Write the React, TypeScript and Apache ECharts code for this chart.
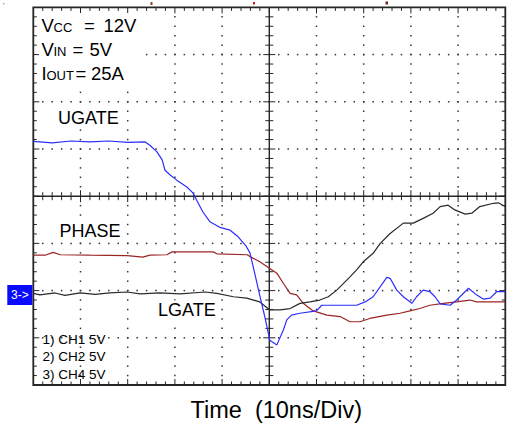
import React, { useEffect, useRef } from 'react';
import * as echarts from 'echarts';

// Time axis: 10 divisions × 10 ns/div; vertical: 8 divisions (5 V/div per channel)
const X_DIVS = 10;
const NS_PER_DIV = 10;
const Y_DIVS = 8;
const X_MAX = X_DIVS * NS_PER_DIV;

// UGATE (CH1, blue) — time in ns, level in divisions from bottom
const ugateTime = [0, 4, 8, 12, 16, 20, 23.7, 24.7, 26.2, 27.3, 27.9, 29.0, 30.4, 32.6, 33.8, 34.6, 35.9, 37.4, 39.5, 41.7, 43.4, 45.1, 45.9, 47.0, 48.0, 49.1, 50.1, 51.6, 53.0, 53.7, 54.7, 56.5, 60.0, 61.1, 68.5, 70.3, 72.0, 74.9, 75.6, 77.0, 78.4, 80.2, 81.2, 82.6, 84.0, 85.1, 86.2, 88.3, 89.7, 92.2, 93.9, 95.3, 96.8, 98.2, 100];
const ugateDiv = [5.16, 5.13, 5.17, 5.15, 5.17, 5.14, 5.15, 5.08, 4.94, 4.77, 4.55, 4.45, 4.34, 4.19, 4.07, 3.92, 3.67, 3.46, 3.34, 3.28, 3.14, 2.94, 2.80, 2.33, 1.89, 1.42, 0.95, 0.85, 1.17, 1.38, 1.48, 1.52, 1.57, 1.69, 1.69, 1.76, 1.87, 2.28, 2.26, 2.01, 1.87, 1.73, 1.87, 2.01, 1.98, 1.87, 1.72, 1.69, 1.80, 2.05, 1.91, 1.82, 1.84, 1.98, 1.98];

// PHASE (CH2, dark red)
const phaseTime = [0, 2.5, 4.2, 5.7, 12, 19.9, 23.2, 24.7, 28.3, 29.4, 38.1, 38.9, 45.3, 45.9, 47.3, 48.0, 50.1, 51.6, 53.0, 54.4, 55.8, 57.2, 59.0, 60.0, 62.2, 65.0, 67.1, 69.2, 71.3, 74.9, 77.7, 79.8, 81.9, 84.0, 86.9, 89.7, 92.5, 93.9, 100];
const phaseDiv = [2.75, 2.75, 2.81, 2.76, 2.75, 2.74, 2.71, 2.75, 2.76, 2.82, 2.82, 2.78, 2.76, 2.72, 2.65, 2.61, 2.47, 2.37, 2.15, 1.94, 1.91, 1.73, 1.59, 1.55, 1.48, 1.45, 1.34, 1.34, 1.41, 1.48, 1.52, 1.57, 1.62, 1.69, 1.73, 1.76, 1.80, 1.76, 1.76];

// LGATE (CH4, black)
const lgateTime = [0, 1.4, 4.6, 6.7, 9.9, 13.1, 16.2, 19.9, 22.6, 26.8, 31.1, 36.4, 38.9, 42.4, 45.2, 48.0, 50.1, 52.3, 54.4, 56.5, 58.6, 60.7, 62.5, 64.3, 67.1, 68.5, 69.9, 72.0, 73.5, 75.6, 78.4, 80.5, 82.6, 84.7, 86.2, 87.9, 89.3, 91.5, 92.9, 94.6, 97.5, 98.5, 100];
const lgateDiv = [1.94, 1.91, 1.95, 1.90, 1.95, 1.92, 1.95, 1.97, 1.93, 1.95, 1.93, 1.97, 1.94, 1.87, 1.84, 1.76, 1.59, 1.59, 1.62, 1.73, 1.76, 1.80, 1.87, 2.01, 2.29, 2.44, 2.61, 2.79, 3.00, 3.21, 3.43, 3.43, 3.53, 3.64, 3.78, 3.81, 3.71, 3.62, 3.64, 3.78, 3.85, 3.86, 3.78];

const channelLabels = ['1) CH1 5V', '2) CH2 5V', '3) CH4 5V'];
const xAxisTitle = 'Time  (10ns/Div)';

const FONT = '"Liberation Sans", Arial, sans-serif';

const zip = (t: number[], v: number[]) => t.map((x, i) => [x, v[i]]);

function renderGraticule(_params: any, api: any) {
  const [left, bottom] = api.coord([0, 0]);
  const [right, top] = api.coord([X_MAX, Y_DIVS]);
  const divW = (right - left) / X_DIVS;
  const divH = (bottom - top) / Y_DIVS;
  const cx = left + divW * (X_DIVS / 2);
  const cy = top + divH * (Y_DIVS / 2);
  const dark = '#262626';
  const children: any[] = [];
  const line = (x1: number, y1: number, x2: number, y2: number, w = 1) =>
    children.push({ type: 'line', shape: { x1, y1, x2, y2 }, style: { stroke: dark, lineWidth: w } });
  const dot = (x: number, y: number) =>
    children.push({ type: 'rect', shape: { x: x - 0.75, y: y - 0.75, width: 1.5, height: 1.5 }, style: { fill: '#333333' } });

  // dotted graticule lines
  for (let i = 1; i < X_DIVS; i++) {
    if (i === X_DIVS / 2) continue;
    const x = left + i * divW;
    for (let k = 1; k < Y_DIVS * 5; k++) dot(x, top + (k * divH) / 5);
  }
  for (let j = 1; j < Y_DIVS; j++) {
    if (j === Y_DIVS / 2) continue;
    const y = top + j * divH;
    for (let k = 1; k < X_DIVS * 5; k++) dot(left + (k * divW) / 5, y);
  }
  // centre cross lines with ticks
  line(left, cy, right, cy, 1.4);
  line(cx, top, cx, bottom, 1.4);
  for (let k = 1; k < X_DIVS * 5; k++) {
    const x = left + (k * divW) / 5;
    const major = k % 5 === 0;
    line(x, cy - (major ? 6 : 4), x, cy + (major ? 6 : 4));
    line(x, top, x, top + (major ? 6 : 3.5));
    line(x, bottom, x, bottom - (major ? 6 : 3.5));
  }
  for (let k = 1; k < Y_DIVS * 5; k++) {
    const y = top + (k * divH) / 5;
    const major = k % 5 === 0;
    line(cx - (major ? 6 : 4), y, cx + (major ? 6 : 4), y);
    line(left, y, left + (major ? 6 : 3.5), y);
    line(right, y, right - (major ? 6 : 3.5), y);
  }
  // border
  children.push({
    type: 'rect',
    shape: { x: left, y: top, width: right - left, height: bottom - top },
    style: { fill: 'none', stroke: dark, lineWidth: 1.8 },
  });
  return { type: 'group', children };
}

const txt = (text: string, x: number, baseline: number, fs: number, bg = false) => ({
  type: 'text',
  x: bg ? x - 2 : x,
  y: baseline - 0.35 * fs,
  z: 20,
  silent: true,
  style: {
    text,
    font: `${fs}px ${FONT}`,
    fill: '#000',
    textAlign: 'left',
    textVerticalAlign: 'middle',
    align: 'left',
    verticalAlign: 'middle',
    ...(bg ? { backgroundColor: '#ffffff', padding: [1, 2, 1, 2] } : {}),
  },
});

const BIG = 18.5;
const SUB = 13;

export default function App() {
  const ref = useRef<HTMLDivElement>(null);
  useEffect(() => {
    if (!ref.current) return;
    const chart = echarts.init(ref.current, null, { renderer: 'svg' });
    chart.setOption({
      animation: false,
      backgroundColor: '#ffffff',
      grid: { left: 33.3, top: 7.4, width: 472, height: 377.6, containLabel: false },
      xAxis: { type: 'value', min: 0, max: X_MAX, interval: NS_PER_DIV, show: false },
      yAxis: { type: 'value', min: 0, max: Y_DIVS, interval: 1, show: false },
      series: [
        {
          type: 'custom',
          name: 'graticule',
          silent: true,
          z: 1,
          data: [[0, 0]],
          renderItem: renderGraticule,
        },
        {
          type: 'line',
          name: 'PHASE',
          z: 3,
          data: zip(phaseTime, phaseDiv),
          showSymbol: false,
          symbol: 'none',
          lineStyle: { color: '#9a2424', width: 1.2 },
        },
        {
          type: 'line',
          name: 'LGATE',
          z: 4,
          data: zip(lgateTime, lgateDiv),
          showSymbol: false,
          symbol: 'none',
          lineStyle: { color: '#2a2a2a', width: 1.2 },
        },
        {
          type: 'line',
          name: 'UGATE',
          z: 5,
          data: zip(ugateTime, ugateDiv),
          showSymbol: false,
          symbol: 'none',
          lineStyle: { color: '#2d2dff', width: 1.2 },
        },
      ],
      graphic: [
        // white panel behind the operating-condition block (hides graticule dots)
        { type: 'rect', z: 15, shape: { x: 39, y: 13, width: 101, height: 71 }, style: { fill: '#ffffff' }, silent: true },
        // V_CC = 12V
        txt('V', 41.5, 31.7, BIG),
        txt('CC', 53.5, 31.7, SUB),
        txt('=', 84, 31.7, BIG),
        txt('12V', 103.5, 31.7, BIG),
        // V_IN = 5V
        txt('V', 41.5, 55.7, BIG),
        txt('IN', 53.5, 55.7, SUB),
        txt('=', 72.5, 55.7, BIG),
        txt('5V', 89.5, 55.7, BIG),
        // I_OUT = 25A
        txt('I', 41.5, 80, BIG),
        txt('OUT', 46.5, 80, SUB),
        txt('=', 75.5, 80, BIG),
        txt('25A', 91, 80, BIG),
        txt('UGATE', 58, 124, 18, true),
        txt('PHASE', 59.5, 237.7, 18, true),
        txt('LGATE', 158, 316.7, 18, true),
        txt(channelLabels[0], 42.5, 344, 13.5),
        txt(channelLabels[1], 42.5, 361.7, 13.5),
        txt(channelLabels[2], 42.5, 379.3, 13.5),
        txt(xAxisTitle, 190.5, 418, 23.5),
        // channel 3 ground marker
        { type: 'rect', z: 20, shape: { x: 7.3, y: 285, width: 25, height: 20 }, style: { fill: '#0a0aff' }, silent: true },
        {
          type: 'text', z: 21, x: 19.8, y: 295, silent: true,
          style: { text: '3->', font: `12px ${FONT}`, fill: '#ffffff', textAlign: 'center', textVerticalAlign: 'middle', align: 'center', verticalAlign: 'middle' },
        },
        // trigger / position markers along top edge
        { type: 'rect', z: 20, shape: { x: 150.5, y: 2, width: 2, height: 3 }, style: { fill: '#8a3a2a' }, silent: true },
        { type: 'rect', z: 20, shape: { x: 253, y: 2, width: 2, height: 2.5 }, style: { fill: '#c02020' }, silent: true },
        { type: 'rect', z: 20, shape: { x: 385.5, y: 1.5, width: 2.5, height: 3 }, style: { fill: '#6a2a1a' }, silent: true },
        { type: 'rect', z: 20, shape: { x: 3, y: 3, width: 1.5, height: 1.5 }, style: { fill: '#aaaaaa' }, silent: true },
      ],
    });
    return () => chart.dispose();
  }, []);
  return (
    <div
      ref={ref}
      style={{ position: 'fixed', left: 0, top: 0, width: 509, height: 426, background: '#fff' }}
    />
  );
}
